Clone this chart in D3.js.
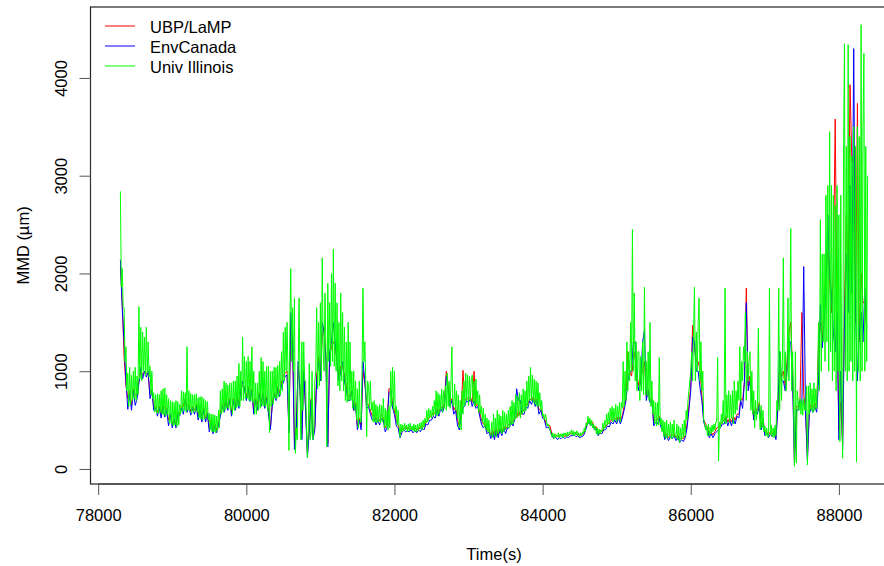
<!DOCTYPE html>
<html>
<head>
<meta charset="utf-8">
<script src="https://cdn.jsdelivr.net/npm/d3@7"></script>
<style>
  html, body { margin: 0; padding: 0; background: #fff; }
  svg text { font-family: "Liberation Sans", Arial, sans-serif; fill: #000; }
</style>
</head>
<body>
<svg id="chart" width="884" height="566"></svg>
<script>
// Median mass diameter records from three instruments on the same flight.
// Sample start (s) and sampling interval (s) of each record.
const sampleStart = 78300;
const illinoisInterval = 12.5;
const coarseInterval = 25;

const seriesNames = ["UBP/LaMP", "EnvCanada", "Univ Illinois"];
const seriesColors = ["#ff0000", "#0000ff", "#00ff00"];

// UBP/LaMP MMD (µm), every 25 s
const ubpLamp = [
  2080, 1700, 1150, 860, 720, 800, 650, 820, 760, 740,
  900, 1000, 960, 1000, 980, 960, 760, 820, 640, 640,
  580, 640, 560, 660, 620, 620, 500, 560, 460, 520,
  450, 580, 560, 640, 640, 720, 640, 660, 590, 640,
  600, 660, 540, 640, 520, 620, 520, 580, 420, 500,
  400, 460, 400, 460, 580, 660, 640, 720, 640, 720,
  580, 720, 640, 760, 660, 820, 850, 840, 740, 840,
  720, 820, 600, 720, 660, 780, 680, 780, 660, 740,
  600, 420, 680, 780, 740, 840, 780, 880, 960, 980,
  1000, 400, 1500, 1250, 260, 450, 1050, 820, 360, 1000,
  640, 160, 420, 720, 340, 440, 950, 1150, 950, 1350,
  1450, 1150, 260, 1150, 1250, 1300, 1250, 1100, 950, 1050,
  1050, 950, 850, 740, 740, 800, 600, 680, 440, 520,
  440, 1000, 880, 660, 660, 600, 540, 560, 500, 520,
  490, 560, 520, 420, 460, 820, 820, 660, 600, 480,
  450, 350, 400, 420, 410, 420, 410, 420, 400, 420,
  400, 420, 410, 440, 430, 480, 500, 540, 540, 580,
  560, 620, 580, 640, 620, 680, 1000, 850, 680, 720,
  600, 640, 500, 440, 580, 1010, 700, 720, 720, 740,
  680, 1000, 640, 660, 580, 500, 460, 460, 400, 400,
  340, 400, 330, 420, 350, 420, 370, 440, 400, 440,
  460, 500, 480, 540, 520, 600, 540, 600, 600, 660,
  660, 720, 700, 740, 680, 720, 600, 620, 560, 520,
  460, 450, 440, 360, 340, 350, 330, 340, 340, 350,
  330, 350, 340, 360, 360, 370, 350, 360, 340, 350,
  360, 400, 480, 500, 470, 480, 420, 430, 360, 390,
  380, 420, 430, 460, 470, 500, 500, 520, 500, 540,
  500, 540, 640, 720, 1200, 1000, 950, 1100, 1200, 950,
  850, 950, 1000, 1100, 740, 820, 700, 720, 480, 500,
  500, 540, 450, 420, 330, 360, 320, 350, 340, 360,
  320, 350, 300, 320, 310, 340, 460, 640, 850, 1470,
  1250, 1100, 1100, 1010, 750, 500, 460, 420, 350, 380,
  350, 380, 420, 430, 460, 480, 500, 540, 480, 520,
  480, 540, 500, 560, 560, 720, 700, 900, 1850, 850,
  950, 740, 540, 620, 600, 680, 440, 520, 380, 380,
  350, 380, 360, 400, 330, 640, 1000, 940, 1000, 850,
  1100, 1400, 1500, 1000, 70, 640, 640, 720, 1600, 760,
  600, 120, 600, 660, 620, 680, 620, 1300, 1500, 1300,
  1700, 2000, 2300, 1900, 1600, 2000, 3580, 1500, 400, 685,
  250, 1700, 2600, 2000, 3930, 3140, 3200, 1500, 3740, 1300,
  2000, 1700, 1708, 1420
];

// EnvCanada MMD (µm), every 25 s
const envCanada = [
  2140, 1650, 1300, 900, 610, 760, 600, 800, 650, 720,
  880, 1040, 920, 1000, 940, 1000, 720, 800, 600, 620,
  540, 620, 520, 640, 530, 600, 440, 560, 420, 520,
  420, 560, 540, 620, 560, 700, 580, 640, 550, 620,
  560, 640, 500, 620, 480, 600, 480, 560, 380, 480,
  360, 440, 370, 450, 540, 640, 580, 700, 600, 700,
  540, 700, 600, 740, 620, 800, 900, 820, 700, 820,
  690, 800, 560, 700, 600, 760, 640, 760, 620, 720,
  560, 400, 640, 760, 700, 820, 740, 860, 880, 950,
  960, 370, 1600, 1300, 200, 400, 1100, 800, 300, 1000,
  600, 120, 380, 700, 300, 400, 900, 1100, 900, 1500,
  1400, 1100, 225, 1200, 1300, 1500, 1300, 1100, 900, 1000,
  1100, 900, 800, 700, 700, 800, 600, 650, 400, 500,
  400, 1100, 900, 620, 640, 560, 500, 520, 450, 500,
  450, 520, 500, 380, 420, 780, 800, 620, 560, 440,
  420, 320, 370, 400, 380, 390, 380, 400, 370, 390,
  370, 400, 380, 420, 400, 460, 450, 500, 500, 540,
  520, 600, 540, 620, 580, 650, 950, 800, 640, 700,
  560, 600, 450, 400, 540, 620, 650, 700, 680, 720,
  640, 700, 620, 640, 540, 460, 420, 440, 360, 380,
  310, 380, 300, 400, 320, 400, 340, 420, 360, 420,
  420, 480, 440, 520, 820, 700, 700, 560, 560, 640,
  620, 700, 660, 720, 640, 700, 560, 600, 520, 500,
  420, 430, 400, 340, 310, 330, 300, 320, 310, 330,
  310, 330, 320, 340, 340, 350, 330, 340, 320, 330,
  340, 380, 450, 480, 440, 460, 400, 410, 340, 370,
  360, 400, 400, 440, 430, 480, 460, 500, 460, 520,
  460, 520, 600, 700, 900, 1000, 1000, 1300, 1300, 900,
  800, 900, 1300, 1420, 700, 800, 680, 700, 440, 480,
  460, 520, 420, 400, 300, 340, 290, 330, 310, 340,
  290, 330, 270, 300, 280, 320, 420, 600, 800, 1350,
  1300, 1000, 1000, 830, 700, 480, 420, 400, 320, 360,
  320, 360, 380, 400, 420, 460, 460, 520, 440, 500,
  440, 520, 460, 540, 520, 700, 620, 900, 1700, 800,
  900, 700, 500, 600, 560, 650, 400, 500, 340, 360,
  320, 360, 330, 380, 300, 600, 1200, 900, 900, 800,
  1000, 1300, 1300, 900, 40, 600, 600, 700, 650, 2070,
  560, 80, 560, 620, 580, 640, 580, 900, 1680, 1240,
  1500, 1800, 2600, 2000, 1800, 1400, 1200, 1600, 300, 1000,
  200, 1500, 2200, 1600, 2900, 1800, 4300, 1600, 900, 1400,
  1600, 1300, 1850, 1450
];

// Univ Illinois MMD (µm), every 12.5 s
const univIllinois = [
  2840, 1860, 2050, 1660, 1650, 1100, 1250, 800, 980, 640, 1040, 660, 960, 700, 1000, 720, 1040, 700, 950, 760,
  1660, 920, 1450, 900, 1400, 1000, 1350, 950, 1450, 980, 1300, 940, 1050, 760, 1000, 720, 780, 580, 760, 570,
  770, 570, 760, 580, 800, 560, 820, 550, 830, 540, 760, 560, 720, 470, 700, 460, 690, 440, 680, 450,
  700, 430, 690, 450, 660, 560, 800, 580, 790, 600, 780, 580, 1250, 600, 800, 600, 770, 570, 760, 580,
  760, 590, 770, 580, 730, 520, 740, 510, 740, 500, 720, 510, 700, 520, 690, 500, 570, 400, 560, 380,
  560, 380, 550, 370, 540, 390, 600, 420, 800, 560, 820, 580, 900, 600, 880, 620, 860, 620, 880, 600,
  880, 560, 900, 600, 900, 620, 950, 640, 1080, 640, 1000, 700, 1350, 700, 1150, 720, 1100, 720, 1150, 700,
  1100, 700, 1250, 680, 1000, 560, 880, 560, 880, 600, 1000, 620, 1140, 650, 1100, 640, 1000, 640, 1050, 600,
  1050, 370, 1000, 640, 1000, 660, 1040, 720, 1040, 720, 1060, 740, 1100, 760, 1200, 800, 1400, 900, 1450, 1000,
  1500, 1000, 190, 1400, 2050, 1100, 1650, 1000, 1750, 160, 420, 300, 1000, 1750, 900, 300, 1300, 600, 1300, 900,
  900, 400, 115, 430, 1080, 300, 380, 1000, 300, 420, 900, 1000, 1650, 820, 1500, 850, 1700, 900, 2160, 1200,
  1000, 1800, 1200, 230, 1900, 1100, 1700, 1050, 2000, 1100, 2250, 1050, 1900, 1000, 1700, 850, 1500, 800, 1800, 900,
  1600, 800, 1450, 700, 1300, 680, 1500, 700, 1300, 700, 1000, 620, 1000, 600, 900, 500, 820, 420, 900, 480,
  480, 1000, 1850, 1100, 1300, 900, 330, 900, 850, 620, 900, 600, 680, 480, 700, 480, 660, 470, 640, 480,
  660, 470, 650, 480, 720, 420, 620, 430, 600, 400, 640, 420, 1000, 640, 1040, 600, 1000, 560, 640, 450,
  600, 430, 330, 460, 380, 450, 390, 470, 400, 450, 380, 460, 390, 470, 400, 440, 390, 460, 380, 450,
  380, 460, 390, 470, 410, 480, 400, 500, 430, 520, 470, 600, 480, 620, 520, 600, 520, 640, 540, 700,
  560, 800, 540, 780, 560, 760, 600, 820, 580, 800, 620, 850, 600, 980, 640, 900, 620, 880, 1250, 650,
  650, 870, 600, 800, 520, 760, 420, 700, 400, 800, 560, 900, 650, 980, 700, 960, 650, 950, 700, 920,
  960, 680, 900, 640, 920, 660, 800, 580, 760, 560, 640, 480, 620, 430, 560, 400, 520, 380, 500, 360,
  340, 480, 320, 560, 340, 520, 330, 600, 360, 560, 380, 540, 360, 600, 380, 580, 400, 560, 420, 600,
  420, 640, 450, 700, 460, 680, 500, 760, 520, 740, 540, 780, 520, 760, 560, 820, 580, 800, 600, 900,
  640, 950, 700, 1040, 700, 960, 680, 920, 660, 900, 640, 880, 640, 780, 600, 700, 540, 560, 500, 560,
  520, 440, 460, 420, 400, 360, 330, 370, 310, 360, 320, 350, 330, 370, 320, 360, 330, 360, 320, 370,
  340, 370, 330, 380, 340, 380, 360, 400, 350, 390, 340, 380, 350, 390, 340, 370, 330, 370, 340, 380,
  360, 420, 380, 470, 440, 540, 460, 520, 440, 500, 420, 460, 400, 440, 360, 420, 350, 410, 360, 400,
  380, 470, 400, 500, 420, 560, 450, 580, 460, 620, 500, 640, 480, 620, 500, 660, 480, 640, 500, 680,
  480, 680, 620, 1100, 640, 1000, 700, 1300, 800, 1200, 900, 1500, 1000, 2450, 1000, 1800, 900, 1300, 800, 1200,
  1200, 700, 1150, 800, 1300, 760, 1860, 760, 1100, 750, 1200, 700, 1500, 640, 900, 560, 700, 460, 680, 440,
  680, 450, 1140, 450, 520, 380, 500, 330, 480, 310, 500, 320, 460, 330, 480, 310, 460, 320, 500, 330,
  320, 460, 300, 440, 270, 420, 300, 460, 320, 500, 340, 600, 500, 700, 800, 900, 1000, 1200, 900, 1400,
  1860, 900, 1400, 1000, 1500, 1750, 900, 1300, 800, 1000, 500, 460, 400, 450, 340, 460, 340, 430, 360, 450,
  380, 460, 400, 480, 480, 1140, 80, 480, 420, 560, 460, 700, 480, 1850, 460, 760, 520, 800, 480, 760,
  520, 800, 460, 900, 560, 800, 600, 900, 700, 1250, 700, 1100, 900, 1250, 1100, 1600, 700, 1200, 900, 1100,
  1200, 600, 1000, 560, 800, 420, 700, 500, 650, 1440, 600, 400, 650, 420, 600, 380, 440, 340, 420, 330,
  330, 1850, 350, 450, 330, 420, 320, 450, 340, 700, 600, 1850, 600, 1200, 700, 1100, 2160, 900, 1200, 800,
  1000, 1750, 900, 1400, 2460, 800, 1200, 700, 27, 1200, 60, 800, 700, 600, 720, 560, 700, 550, 720, 600,
  600, 850, 40, 850, 560, 880, 600, 820, 580, 880, 600, 820, 620, 900, 1500, 800, 2550, 1000, 2200, 1300,
  2200, 1100, 2800, 1300, 2900, 1000, 3450, 1200, 2900, 900, 2800, 1000, 2700, 800, 2900, 1000, 2600, 280, 2800, 900,
  110, 3200, 4350, 1000, 3300, 900, 4340, 1000, 3400, 1100, 3200, 900, 3500, 1000, 3300, 70, 3500, 1000, 3400, 900,
  4545, 1000, 3500, 4250, 1000, 3300, 1100, 3000
];

const xTicks = [78000, 80000, 82000, 84000, 86000, 88000];
const yTicks = [0, 1000, 2000, 3000, 4000];

// Pair each value with its sample time.
const toPoints = (vals, step) => vals.map((v, i) => ({ t: sampleStart + i * step, v }));
const series = [
  toPoints(ubpLamp, coarseInterval),
  toPoints(envCanada, coarseInterval),
  toPoints(univIllinois, illinoisInterval)
];

// Plot region (right edge runs past the canvas)
const plot = { left: 90.5, right: 897.5, top: 7, bottom: 484 };

// Base-graphics style 4% padding on the data range
function padded(ext) {
  const d = (ext[1] - ext[0]) * 0.04;
  return [ext[0] - d, ext[1] + d];
}
const all = series.flat();
const x = d3.scaleLinear().domain(padded(d3.extent(all, d => d.t))).range([plot.left, plot.right]);
const y = d3.scaleLinear().domain(padded(d3.extent(all, d => d.v))).range([plot.bottom, plot.top]);

const svg = d3.select("#chart");
svg.append("rect").attr("width", 884).attr("height", 566).attr("fill", "#fff");

// Series lines: red, then blue, then green on top
const line = d3.line().x(d => x(d.t)).y(d => y(d.v));
series.forEach((pts, k) => {
  svg.append("path")
    .datum(pts)
    .attr("fill", "none")
    .attr("stroke", seriesColors[k])
    .attr("stroke-width", 1)
    .attr("stroke-linejoin", "bevel")
    .attr("d", line);
});

// Plot box
svg.append("rect")
  .attr("x", plot.left).attr("y", plot.top)
  .attr("width", plot.right - plot.left).attr("height", plot.bottom - plot.top)
  .attr("fill", "none").attr("stroke", "#222").attr("stroke-width", 1.2);

// Axes
const xAxis = d3.axisBottom(x).tickValues(xTicks).tickSize(11).tickFormat(d3.format("d"));
const gx = svg.append("g").attr("transform", `translate(0,${plot.bottom})`).call(xAxis);
gx.select(".domain").attr("stroke", "#333").attr("d", `M${x(xTicks[0])},0H${x(xTicks[xTicks.length - 1])}`);
gx.selectAll(".tick line").attr("stroke", "#555");
gx.selectAll(".tick text").attr("font-size", "16.5px").attr("y", 37).attr("dy", null);

const yAxis = d3.axisLeft(y).tickValues(yTicks).tickSize(11).tickFormat(d3.format("d"));
const gy = svg.append("g").attr("transform", `translate(${plot.left},0)`).call(yAxis);
gy.select(".domain").attr("stroke", "#333").attr("d", `M0,${y(yTicks[0])}V${y(yTicks[yTicks.length - 1])}`);
gy.selectAll(".tick line").attr("stroke", "#555");
gy.selectAll(".tick text")
  .attr("font-size", "16.5px")
  .attr("x", null).attr("dy", null)
  .attr("text-anchor", "middle")
  .attr("transform", "translate(-23.5,0) rotate(-90)");
svg.selectAll(".tick text").attr("fill", "#000").attr("font-family", "Liberation Sans, Arial, sans-serif");

// Axis titles
svg.append("text")
  .attr("x", (plot.left + plot.right) / 2).attr("y", 560)
  .attr("text-anchor", "middle").attr("font-size", "16.5px")
  .text("Time(s)");
svg.append("text")
  .attr("transform", `translate(29,${(plot.top + plot.bottom) / 2}) rotate(-90)`)
  .attr("text-anchor", "middle").attr("font-size", "16.5px")
  .text("MMD (µm)");

// Legend
const legend = svg.append("g");
seriesNames.forEach((name, k) => {
  const by = 33 + k * 20;
  legend.append("line")
    .attr("x1", 105).attr("x2", 135).attr("y1", by - 7).attr("y2", by - 7)
    .attr("stroke", seriesColors[k]).attr("stroke-width", 1);
  legend.append("text")
    .attr("x", 150).attr("y", by).attr("font-size", "16.5px")
    .text(name);
});
</script>
</body>
</html>
